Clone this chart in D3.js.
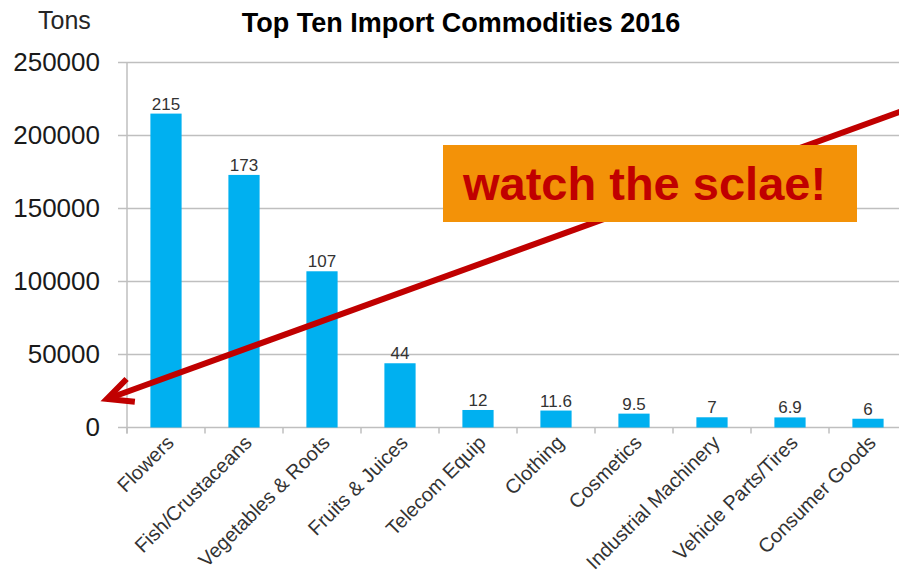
<!DOCTYPE html>
<html>
<head>
<meta charset="utf-8">
<script src="https://cdn.jsdelivr.net/npm/d3@7"></script>
<style>
  body { margin: 0; background: #fff; }
  svg { display: block; }
</style>
</head>
<body>
<script>
const categories = [
  'Flowers',
  'Fish/Crustaceans',
  'Vegetables & Roots',
  'Fruits & Juices',
  'Telecom Equip',
  'Clothing',
  'Cosmetics',
  'Industrial Machinery',
  'Vehicle Parts/Tires',
  'Consumer Goods'
];
const tons = [215000, 173000, 107000, 44000, 12000, 11600, 9500, 7000, 6900, 6000];
const valueLabels = ['215', '173', '107', '44', '12', '11.6', '9.5', '7', '6.9', '6'];
const yTicks = [0, 50000, 100000, 150000, 200000, 250000];

const width = 899;
const height = 577;
const plotLeft = 127;
const plotRight = 907;
const plotTop = 62.5;
const plotBottom = 427.5;

const svg = d3
  .select('body')
  .append('svg')
  .attr('width', width)
  .attr('height', height);

const x = d3
  .scaleBand()
  .domain(categories)
  .range([plotLeft, plotRight])
  .paddingInner(0.6)
  .paddingOuter(0.3);

const y = d3
  .scaleLinear()
  .domain([0, 250000])
  .range([plotBottom, plotTop]);

// gridlines
svg
  .append('g')
  .selectAll('line')
  .data(yTicks)
  .enter()
  .append('line')
  .attr('x1', plotLeft - 9)
  .attr('x2', width)
  .attr('y1', d => y(d))
  .attr('y2', d => y(d))
  .attr('stroke', '#bfbfbf')
  .attr('stroke-width', 1.5);

// y axis line
svg
  .append('line')
  .attr('x1', plotLeft)
  .attr('x2', plotLeft)
  .attr('y1', plotTop)
  .attr('y2', plotBottom + 6)
  .attr('stroke', '#bfbfbf')
  .attr('stroke-width', 1.5);

// x ticks at band edges
svg
  .append('g')
  .selectAll('line')
  .data(categories)
  .enter()
  .append('line')
  .attr('x1', d => x(d) - x.step() * 0.3)
  .attr('x2', d => x(d) - x.step() * 0.3)
  .attr('y1', plotBottom)
  .attr('y2', plotBottom + 6)
  .attr('stroke', '#bfbfbf')
  .attr('stroke-width', 1.5);

// y labels
const yAxis = svg
  .append('g')
  .attr('transform', `translate(${plotLeft}, 0)`)
  .call(d3.axisLeft(y).tickValues(yTicks).tickSize(0).tickPadding(27).tickFormat(d3.format('d')));
yAxis.select('.domain').remove();
yAxis
  .selectAll('text')
  .attr('font-family', 'Liberation Sans, Arial, sans-serif')
  .attr('font-size', 26)
  .attr('fill', '#1a1a1a');

// x labels
svg
  .append('g')
  .selectAll('text')
  .data(categories)
  .enter()
  .append('text')
  .attr('transform', d => `translate(${x(d) + x.bandwidth() / 2 + 9}, 444) rotate(-45)`)
  .attr('text-anchor', 'end')
  .attr('font-family', 'Liberation Sans, Arial, sans-serif')
  .attr('font-size', 20)
  .attr('fill', '#333')
  .text(d => d);

// bars
svg
  .append('g')
  .selectAll('rect')
  .data(tons)
  .enter()
  .append('rect')
  .attr('x', (d, i) => x(categories[i]))
  .attr('y', d => y(d))
  .attr('width', x.bandwidth())
  .attr('height', d => plotBottom - y(d))
  .attr('fill', '#00b0f0');

// value labels
svg
  .append('g')
  .selectAll('text')
  .data(tons)
  .enter()
  .append('text')
  .attr('x', (d, i) => x(categories[i]) + x.bandwidth() / 2)
  .attr('y', d => y(d) - 4)
  .attr('text-anchor', 'middle')
  .attr('font-family', 'Liberation Sans, Arial, sans-serif')
  .attr('font-size', 17)
  .attr('fill', '#333')
  .text((d, i) => valueLabels[i]);

// title
svg
  .append('text')
  .attr('x', 461)
  .attr('y', 32)
  .attr('text-anchor', 'middle')
  .attr('font-family', 'Liberation Sans, Arial, sans-serif')
  .attr('font-weight', 'bold')
  .attr('font-size', 27)
  .attr('fill', '#000')
  .text('Top Ten Import Commodities 2016');

svg
  .append('text')
  .attr('x', 38)
  .attr('y', 29)
  .attr('font-family', 'Liberation Sans, Arial, sans-serif')
  .attr('font-size', 25)
  .attr('fill', '#262626')
  .text('Tons');

// arrow
const tip = [107, 399];
const tail = [905, 110];
const ang = Math.atan2(tail[1] - tip[1], tail[0] - tip[0]);
const wing = 28;
const spread = Math.PI / 7;
const w1 = [tip[0] + wing * Math.cos(ang - spread), tip[1] + wing * Math.sin(ang - spread)];
const w2 = [tip[0] + wing * Math.cos(ang + spread), tip[1] + wing * Math.sin(ang + spread)];

svg
  .append('line')
  .attr('x1', tail[0])
  .attr('y1', tail[1])
  .attr('x2', tip[0] + 3 * Math.cos(ang))
  .attr('y2', tip[1] + 3 * Math.sin(ang))
  .attr('stroke', '#c00000')
  .attr('stroke-width', 6);

svg
  .append('path')
  .attr('d', d3.line()([w1, tip, w2]))
  .attr('fill', 'none')
  .attr('stroke', '#c00000')
  .attr('stroke-width', 6)
  .attr('stroke-linejoin', 'miter');

// callout box
svg
  .append('rect')
  .attr('x', 443)
  .attr('y', 145)
  .attr('width', 414)
  .attr('height', 77)
  .attr('fill', '#f39208');

svg
  .append('text')
  .attr('x', 463)
  .attr('y', 200)
  .attr('font-family', 'Liberation Sans, Arial, sans-serif')
  .attr('font-weight', 'bold')
  .attr('font-size', 47)
  .attr('fill', '#c00000')
  .text('watch the sclae!');
</script>
</body>
</html>
